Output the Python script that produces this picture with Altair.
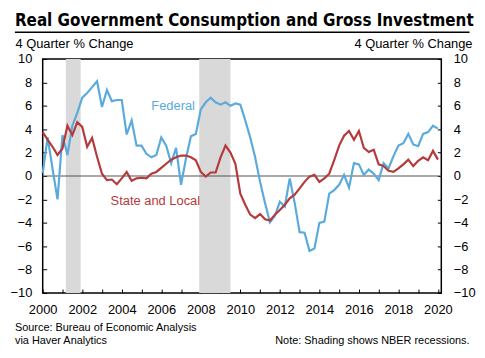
import altair as alt
import pandas as pd

TITLE = "Real Government Consumption and Gross Investment"
Y_TITLE = "4 Quarter % Change"
SOURCE_1 = "Source: Bureau of Economic Analysis"
SOURCE_2 = "via Haver Analytics"
NOTE = "Note: Shading shows NBER recessions."

start_year = 2000  # 2000Q1, quarterly observations
federal = [0.25, 3.3, 0.6, -2.0, 3.5, 1.8, 4.3, 5.4, 6.7, 7.1,
           7.6, 8.1, 5.9, 7.35, 6.4, 6.5, 6.5, 3.55, 4.75, 2.6,
           2.6, 1.9, 1.6, 1.8, 3.3, 2.6, 1.1, 2.4, -0.75, 1.5,
           3.4, 3.6, 5.7, 6.3, 6.7, 6.3, 6.1, 6.3, 6.0, 6.2,
           6.1, 4.75, 3.3, 1.6, -0.5, -2.3, -3.95, -3.4, -2.2, -2.6,
           -0.2, -2.3, -4.8, -4.85, -6.4, -6.2, -4.0, -3.9, -1.5, -1.2,
           -0.75, 0.1, -1.0, 1.1, 1.0, 0.1, 0.55, 0.2, -0.35, 1.1,
           0.65, 1.7, 2.6, 2.8, 3.6, 2.7, 2.55, 3.6, 3.75, 4.3, 4.05]
state_local = [3.75, 3.1, 2.5, 1.8, 2.35, 4.3, 3.5, 4.6, 4.2, 2.5,
               3.25, 1.65, 0.2, -0.35, -0.3, -0.7, -0.2, 0.35, -0.4, -0.2,
               -0.15, -0.2, 0.2, 0.35, 0.7, 1.05, 1.4, 1.6, 1.75, 1.75,
               1.6, 1.35, 0.35, -0.05, 0.3, 0.3, 1.6, 2.6, 2.0, 1.05,
               -1.5, -2.45, -3.3, -3.6, -3.25, -3.7, -3.8, -3.3, -2.9, -2.45,
               -1.9, -1.6, -1.05, -0.5, -0.05, 0.1, -0.5, -0.2, 0.2, 1.35,
               2.6, 3.45, 3.85, 3.1, 3.85, 2.4, 2.05, 2.25, 1.0, 0.85, 0.45,
               0.35, 0.65, 1.0, 1.4, 0.85, 1.3, 1.6, 1.35, 2.15, 1.4]
recession_start = [2001.17, 2007.92]
recession_end = [2001.92, 2009.5]
series_names = ["Federal", "State and Local"]
series_colors = ["#5aabdc", "#b43a3b"]
label_year = [2006.6, 2005.7]
label_value = [6.0, -2.1]
x_ticks = list(range(2000, 2021))
y_ticks = list(range(-10, 11, 2))
y_min, y_max = -10, 10

n = len(federal)
quarters = [start_year + i / 4 for i in range(n)]
lines_df = pd.DataFrame({
    "t": quarters + quarters,
    "v": federal + state_local,
    "s": [series_names[0]] * n + [series_names[1]] * len(state_local),
})
rec_df = pd.DataFrame({"a": recession_start, "b": recession_end,
                       "lo": [y_min] * 2, "hi": [y_max] * 2})
lab_df = pd.DataFrame({"t": label_year, "v": label_value, "s": series_names})

FONT = "Liberation Sans"
TITLE_FONT = "DejaVu Sans Condensed, Liberation Sans, sans-serif"
W, H = 402, 236

xscale = alt.Scale(domain=[2000, 2020.17], nice=False, zero=False)
yscale = alt.Scale(domain=[y_min, y_max], nice=False)
cscale = alt.Scale(domain=series_names, range=series_colors)
xaxis = alt.Axis(values=x_ticks, title=None,
                 labelExpr="datum.value % 2 == 0 ? '' + datum.value : ''")

rects = alt.Chart(rec_df).mark_rect(color="#d9d9d9").encode(
    x=alt.X("a:Q", scale=xscale, axis=xaxis),
    x2="b:Q",
    y=alt.Y("lo:Q", scale=yscale, axis=None),
    y2="hi:Q",
)

zero = alt.Chart(pd.DataFrame({"z": [0]})).mark_rule(color="#555555", strokeWidth=1.2).encode(
    y=alt.Y("z:Q", scale=yscale,
            axis=alt.Axis(orient="right", values=y_ticks, title=Y_TITLE,
                          titleAngle=0, titleAlign="right", titleBaseline="alphabetic",
                          titleX=35, titleY=-12, labelPadding=12)),
)

lines = alt.Chart(lines_df).mark_line(strokeWidth=2.2).encode(
    x=alt.X("t:Q", scale=xscale, axis=xaxis),
    y=alt.Y("v:Q", scale=yscale,
            axis=alt.Axis(orient="left", values=y_ticks, title=Y_TITLE,
                          titleAngle=0, titleAlign="left", titleBaseline="alphabetic",
                          titleX=-32, titleY=-12, labelPadding=11)),
    color=alt.Color("s:N", scale=cscale, legend=None),
)

labels = alt.Chart(lab_df).mark_text(font=FONT, fontSize=13).encode(
    x=alt.X("t:Q", scale=xscale, axis=xaxis),
    y=alt.Y("v:Q", scale=yscale, axis=None),
    text="s:N",
    color=alt.Color("s:N", scale=cscale, legend=None),
)

title = alt.Chart(pd.DataFrame({"txt": [TITLE]})).mark_text(
    font=TITLE_FONT, fontWeight="bold", fontSize=17, align="left",
    baseline="alphabetic", color="black").encode(
    x=alt.value(-28), y=alt.value(-33), text="txt:N")

underline = alt.Chart(pd.DataFrame({"u": [0]})).mark_rule(color="black", strokeWidth=1.5).encode(
    x=alt.value(-28), x2=alt.value(430.5), y=alt.value(-27))

src1 = alt.Chart(pd.DataFrame({"txt": [SOURCE_1]})).mark_text(
    font=FONT, fontSize=11, align="left", baseline="alphabetic", color="black").encode(
    x=alt.value(-28), y=alt.value(274), text="txt:N")
src2 = alt.Chart(pd.DataFrame({"txt": [SOURCE_2]})).mark_text(
    font=FONT, fontSize=11, align="left", baseline="alphabetic", color="black").encode(
    x=alt.value(-28), y=alt.value(287), text="txt:N")
note = alt.Chart(pd.DataFrame({"txt": [NOTE]})).mark_text(
    font=FONT, fontSize=11, align="right", baseline="alphabetic", color="black").encode(
    x=alt.value(430.5), y=alt.value(287), text="txt:N")

chart = alt.layer(rects, zero, lines, labels, title, underline, src1, src2, note).resolve_axis(
    y="independent"
).properties(
    width=W, height=H,
    autosize=alt.AutoSizeParams(type="none"),
    padding={"left": 35, "top": 50, "right": 36, "bottom": 56},
).configure_view(
    stroke="black", strokeWidth=1.5
).configure_axis(
    domain=False, grid=False, ticks=True, tickSize=4, offset=-4,
    tickColor="black", tickWidth=1,
    labelFont=FONT, labelFontSize=13, labelColor="black",
    labelFlush=False, labelOverlap=False, labelPadding=11,
    titleFont=FONT, titleFontSize=13, titleFontWeight="normal", titleColor="black",
)

chart.save("out.html", embed_options={"renderer": "svg", "actions": False})
